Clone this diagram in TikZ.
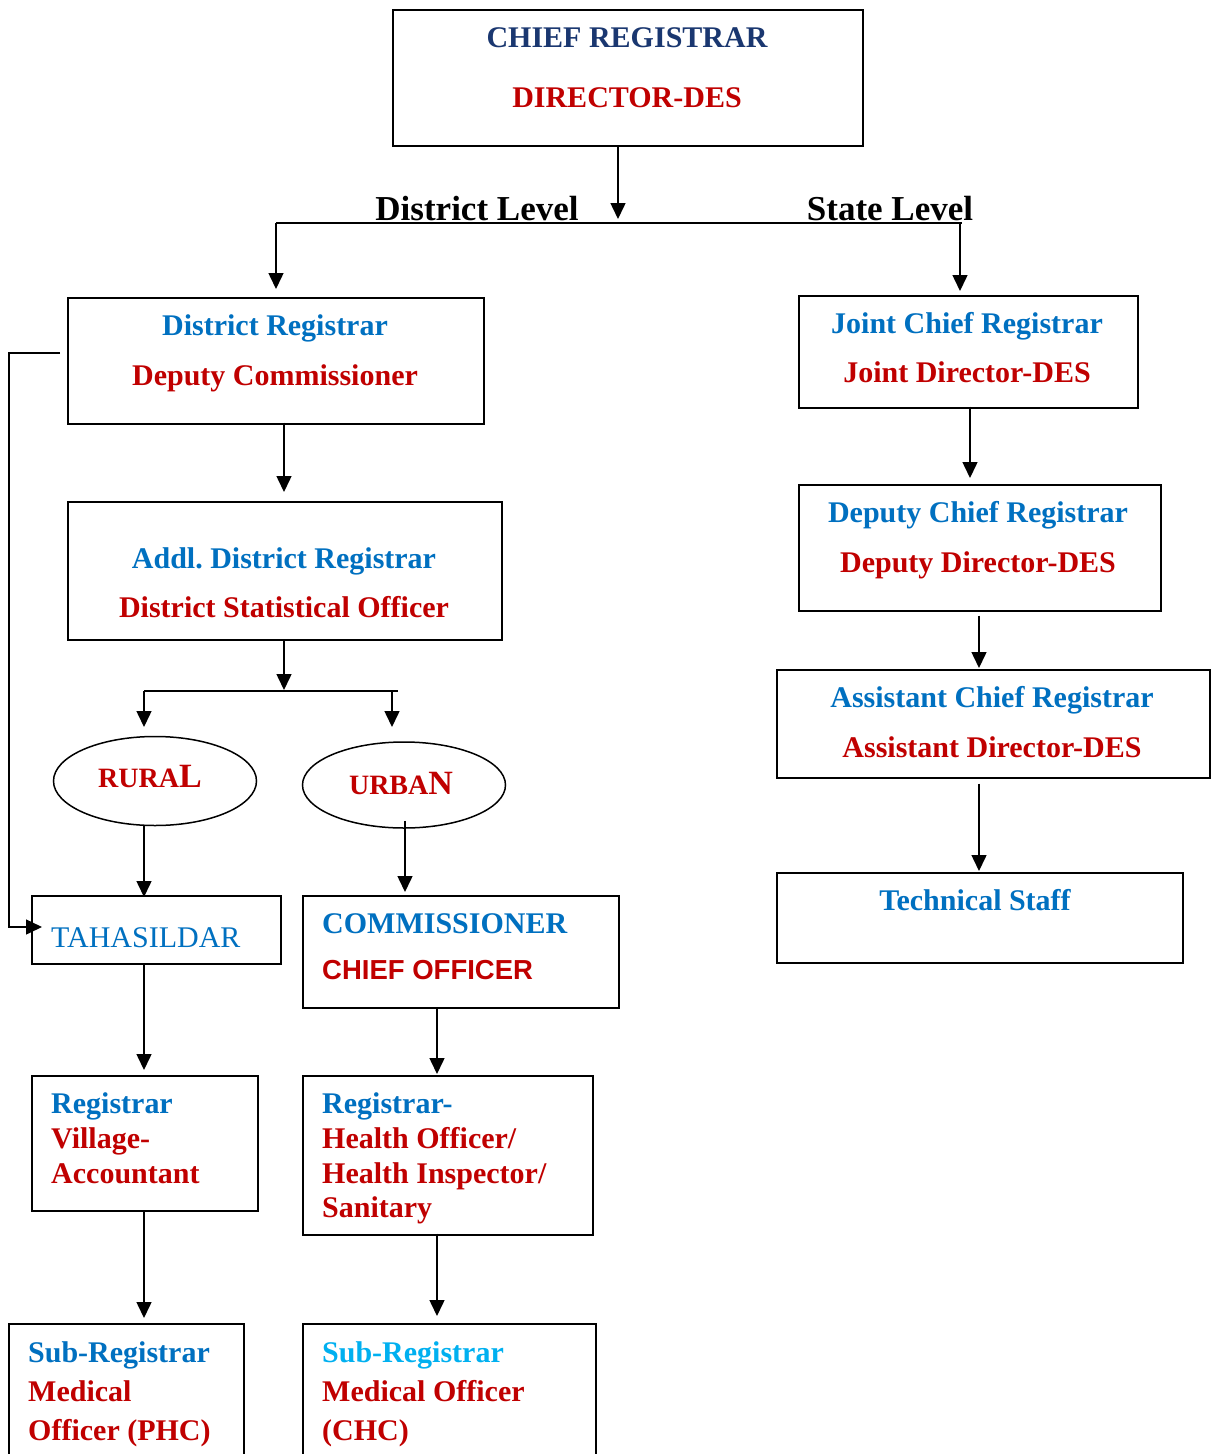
\documentclass[tikz,border=0pt]{standalone}
\usepackage{fontspec}
\setmainfont{Liberation Serif}
\newfontfamily\arialf{Liberation Sans}
\usetikzlibrary{arrows.meta,shapes.geometric}
\definecolor{navyc}{HTML}{1A3770}
\definecolor{redc}{HTML}{C00000}
\definecolor{bluec}{HTML}{0070C0}
\definecolor{cyanc}{HTML}{00B0F0}
\newcommand\fb{\fontsize{30}{36}\selectfont\bfseries}
\frenchspacing
\begin{document}
\begin{tikzpicture}[x=1pt,y=-1pt,
  boxn/.style={draw, line width=1.5pt, anchor=north west, inner sep=0pt},
  ovaln/.style={draw, line width=1.5pt, ellipse, inner sep=0pt},
  tc/.style={anchor=base, inner sep=0pt, font=\fb},
  tl/.style={anchor=base west, inner sep=0pt, font=\fb},
  arr/.style={line width=1.5pt, -{Triangle[length=16pt,width=15pt]}},
  ln/.style={line width=1.5pt}]
\useasboundingbox (0,0) rectangle (1211,1454);
\clip (0,0) rectangle (1211,1454);
\fill[white] (0,0) rectangle (1211,1454);

% boxes
\node[boxn, minimum width=470pt, minimum height=136pt] (top) at (392,9) {};
\node[boxn, minimum width=416pt, minimum height=126pt] (dr) at (67,297) {};
\node[boxn, minimum width=434pt, minimum height=138pt] (addl) at (67,501) {};
\node[ovaln, minimum width=203pt, minimum height=89pt] (rural) at (155,781) {};
\node[ovaln, minimum width=203pt, minimum height=86pt] (urban) at (404,785) {};
\node[boxn, minimum width=249pt, minimum height=68pt] (tah) at (31,895) {};
\node[boxn, minimum width=316pt, minimum height=112pt] (comm) at (302,895) {};
\node[boxn, minimum width=226pt, minimum height=135pt] (rv) at (31,1075) {};
\node[boxn, minimum width=290pt, minimum height=159pt] (rh) at (302,1075) {};
\node[boxn, minimum width=235pt, minimum height=160pt] (phc) at (8,1323) {};
\node[boxn, minimum width=293pt, minimum height=160pt] (chc) at (302,1323) {};
\node[boxn, minimum width=339pt, minimum height=112pt] (jcr) at (798,295) {};
\node[boxn, minimum width=362pt, minimum height=126pt] (dcr) at (798,484) {};
\node[boxn, minimum width=433pt, minimum height=108pt] (acr) at (776,669) {};
\node[boxn, minimum width=406pt, minimum height=90pt] (tech) at (776,872) {};

% texts
\node[tc, text=navyc] (t1) at (627,47) {CHIEF REGISTRAR};
\node[tc, text=redc] (t2) at (627,107) {DIRECTOR-DES};
\node[anchor=base, inner sep=0pt, font=\fontsize{35}{40}\selectfont\bfseries] (lvd) at (477,220) {District Level};
\node[anchor=base, inner sep=0pt, font=\fontsize{35}{40}\selectfont\bfseries] (lvs) at (890,220) {State Level};
\node[tc, text=bluec] (t3) at (275,335) {District Registrar};
\node[tc, text=redc] (t4) at (275,385) {Deputy Commissioner};
\node[tc, text=bluec] (t5) at (284,568) {Addl. District Registrar};
\node[tc, text=redc] (t6) at (284,617) {District Statistical Officer};
\node[anchor=base, inner sep=0pt, text=redc, font=\fontsize{28}{32}\selectfont\bfseries] (t7) at (150,787) {RURA{\fontsize{34}{36}\selectfont L}};
\node[anchor=base, inner sep=0pt, text=redc, font=\fontsize{28}{32}\selectfont\bfseries] (t8) at (401,794) {URBA{\fontsize{34}{36}\selectfont N}};
\node[anchor=base west, inner sep=0pt, text=bluec, font=\fontsize{30}{36}\selectfont] (t9) at (51,947) {TAHASILDAR};
\node[tl, text=bluec] (t10) at (322,933) {COMMISSIONER};
\node[anchor=base west, inner sep=0pt, text=redc, font=\fontsize{27.5}{32}\selectfont\arialf\bfseries] (t11) at (322,979) {CHIEF OFFICER};
\node[tl, text=bluec] (t12) at (51,1113) {Registrar};
\node[tl, text=redc] (t13) at (51,1148) {Village-};
\node[tl, text=redc] (t14) at (51,1183) {Accountant};
\node[tl, text=bluec] (t15) at (322,1113) {Registrar-};
\node[tl, text=redc] (t16) at (322,1148) {Health Officer/};
\node[tl, text=redc] (t17) at (322,1183) {Health Inspector/};
\node[tl, text=redc] (t18) at (322,1217) {Sanitary};
\node[tl, text=bluec] (t19) at (28,1362) {Sub-Registrar};
\node[tl, text=redc] (t20) at (28,1401) {Medical};
\node[tl, text=redc] (t21) at (28,1440) {Officer (PHC)};
\node[tl, text=cyanc] (t22) at (322,1362) {Sub-Registrar};
\node[tl, text=redc] (t23) at (322,1401) {Medical Officer};
\node[tl, text=redc] (t24) at (322,1440) {(CHC)};
\node[tc, text=bluec] (t25) at (967,333) {Joint Chief Registrar};
\node[tc, text=redc] (t26) at (967,382) {Joint Director-DES};
\node[tc, text=bluec] (t27) at (978,522) {Deputy Chief Registrar};
\node[tc, text=redc] (t28) at (978,572) {Deputy Director-DES};
\node[tc, text=bluec] (t29) at (992,707) {Assistant Chief Registrar};
\node[tc, text=redc] (t30) at (992,757) {Assistant Director-DES};
\node[tc, text=bluec] (t31) at (975,910) {Technical Staff};

% coordinates
\coordinate (hb0) at (618,219);
\coordinate (hl) at (276,223);
\coordinate (hr) at (962,223);
\coordinate (hs) at (960,223);
\coordinate (fb0) at (60,353);
\coordinate (fb1) at (9,353);
\coordinate (fb2) at (9,927);
\coordinate (fb3) at (42,927);
\coordinate (br0) at (284,690);
\coordinate (brl) at (144,691);
\coordinate (brr) at (398,691);
\coordinate (brm) at (392,691);

% connectors
\draw[arr] (top.south -| hb0) -- (hb0);
\draw[ln] (hl) -- (hr);
\draw[arr] (hl) -- ([yshift=8pt]dr.north -| hl);
\draw[arr] (hs) -- ([yshift=4pt]jcr.north -| hs);
\draw[arr] (fb0) -- (fb1) -- (fb2) -- (fb3);
\draw[arr] ([yshift=2pt]dr.south -| br0) -- ([yshift=9pt]addl.north -| br0);
\draw[arr] (addl.south -| br0) -- (br0);
\draw[ln] (brl) -- (brr);
\draw[arr] (brl) -- (144,727);
\draw[arr] (brm) -- (392,727);
\draw[arr] (rural.south -| brl) -- ([yshift=-2pt]tah.north -| brl);
\draw[arr] ([yshift=8pt]urban.south -| 405,0) -- ([yshift=3pt]comm.north -| 405,0);
\draw[arr] (tah.south -| brl) -- ([yshift=5pt]rv.north -| brl);
\draw[arr] (comm.south -| 437,0) -- ([yshift=1pt]rh.north -| 437,0);
\draw[arr] (rv.south -| brl) -- ([yshift=5pt]phc.north -| brl);
\draw[arr] ([yshift=2pt]rh.south -| 437,0) -- ([yshift=7pt]chc.north -| 437,0);
\draw[arr] ([yshift=2pt]jcr.south -| 970,0) -- ([yshift=6pt]dcr.north -| 970,0);
\draw[arr] ([yshift=-4pt]dcr.south -| 979,0) -- ([yshift=1pt]acr.north -| 979,0);
\draw[arr] ([yshift=-5pt]acr.south -| 979,0) -- ([yshift=1pt]tech.north -| 979,0);
\end{tikzpicture}
\end{document}
